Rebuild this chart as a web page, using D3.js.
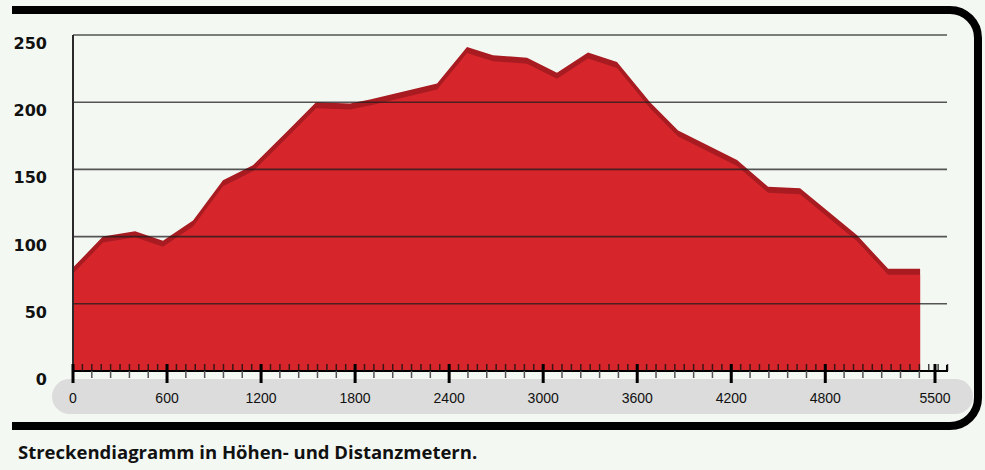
<!DOCTYPE html>
<html lang="de">

<head>
    <meta charset="utf-8">
    <script src="https://d3js.org/d3.v7.min.js"></script>
    <title>Streckendiagramm</title>
    <style>
        body {
            margin: 0;
            padding: 0;
            background-color: #f4f8f3;
        }

        svg {
            display: block;
        }
    </style>
</head>

<body>
    <svg id="chart" width="985" height="470"></svg>
    <script>

        // profile: distance (m) and elevation (m)
        var distances = [0, 191, 396, 574, 766, 957, 1148, 1372, 1551, 1768, 1895, 2323, 2514, 2680,
            2897, 3088, 3286, 3471, 3682, 3861, 4237, 4435, 4639, 5003, 5201, 5405];
        var elevations = [77, 100, 104, 97, 112, 142, 153, 179, 200, 199, 202, 214, 241, 235,
            233, 222, 237, 230, 200, 179, 157, 137, 136, 101, 76, 76];

        var xTicks = [0, 600, 1200, 1800, 2400, 3000, 3600, 4200, 4800, 5500];
        var yTicks = [0, 50, 100, 150, 200, 250];
        var caption = "Streckendiagramm in Höhen- und Distanzmetern.";

        var data = distances.map(function (d, i) { return { dist: d, elev: elevations[i] }; });

        var svg = d3.select("#chart");

        var x = d3.scaleLinear().domain([0, 5500]).range([73, 935]);
        var y = d3.scaleLinear().domain([0, 250]).range([371, 35]);

        // frame with rounded right corners
        svg.append("path")
            .attr("d", "M12,10 H950 A28,28 0 0 1 978,38 V398 A28,28 0 0 1 950,426 H12")
            .attr("fill", "none")
            .attr("stroke", "#000")
            .attr("stroke-width", 8);

        // grey band behind the distance labels
        svg.append("rect")
            .attr("x", 52).attr("y", 379)
            .attr("width", 921).attr("height", 35)
            .attr("rx", 17.5)
            .attr("fill", "#dcdcdc");

        // dark edge, then the red profile a bit lower on top of it
        svg.append("path")
            .datum(data)
            .attr("fill", "#a81b21")
            .attr("d", d3.area()
                .x(function (d) { return x(d.dist); })
                .y0(y(0))
                .y1(function (d) { return y(d.elev); }));

        svg.append("path")
            .datum(data)
            .attr("fill", "#d6262c")
            .attr("d", d3.area()
                .x(function (d) { return x(d.dist); })
                .y0(y(0))
                .y1(function (d) { return Math.min(y(d.elev) + 6, y(0)); }));

        // horizontal grid
        svg.append("g")
            .selectAll("line")
            .data(yTicks.filter(function (t) { return t > 0; }))
            .enter()
            .append("line")
            .attr("x1", 73).attr("x2", 947)
            .attr("y1", function (d) { return y(d); })
            .attr("y2", function (d) { return y(d); })
            .attr("stroke", "#1e1e1e")
            .attr("stroke-opacity", 0.75)
            .attr("stroke-width", 1.6);

        // left axis
        svg.append("line")
            .attr("x1", 73).attr("x2", 73)
            .attr("y1", y(250)).attr("y2", y(0))
            .attr("stroke", "#2a2a2a")
            .attr("stroke-width", 2);

        // y labels, sitting just below their grid line
        svg.append("g")
            .selectAll("text")
            .data(yTicks)
            .enter()
            .append("text")
            .attr("x", 47)
            .attr("y", function (d) { return y(d) + 14; })
            .attr("text-anchor", "end")
            .attr("font-family", "'DejaVu Sans', sans-serif")
            .attr("font-weight", "bold")
            .attr("font-size", "16px")
            .attr("fill", "#111")
            .text(function (d) { return d; });

        // x axis line with a small hook at the end
        svg.append("path")
            .attr("d", "M73," + y(0) + " H947 V" + (y(0) - 6))
            .attr("fill", "none")
            .attr("stroke", "#000")
            .attr("stroke-width", 2);

        // minor ticks above (every 60 m) and below (every 120 m)
        var upTicks = d3.range(60, 5581, 60);
        var downTicks = d3.range(120, 5500, 120);

        svg.append("g")
            .selectAll("line")
            .data(upTicks)
            .enter()
            .append("line")
            .attr("x1", function (d) { return x(d); })
            .attr("x2", function (d) { return x(d); })
            .attr("y1", y(0) - 7).attr("y2", y(0))
            .attr("stroke", "#111")
            .attr("stroke-opacity", 0.8)
            .attr("stroke-width", 1.5);

        svg.append("g")
            .selectAll("line")
            .data(downTicks)
            .enter()
            .append("line")
            .attr("x1", function (d) { return x(d); })
            .attr("x2", function (d) { return x(d); })
            .attr("y1", y(0)).attr("y2", y(0) + 7)
            .attr("stroke", "#555")
            .attr("stroke-width", 1.5);

        // labelled ticks
        svg.append("g")
            .selectAll("line")
            .data(xTicks)
            .enter()
            .append("line")
            .attr("x1", function (d) { return x(d); })
            .attr("x2", function (d) { return x(d); })
            .attr("y1", y(0) - 7).attr("y2", y(0) + 12)
            .attr("stroke", "#000")
            .attr("stroke-width", 3);

        svg.append("g")
            .selectAll("text")
            .data(xTicks)
            .enter()
            .append("text")
            .attr("x", function (d) { return x(d); })
            .attr("y", 403)
            .attr("text-anchor", "middle")
            .attr("font-family", "'Liberation Sans', Arial, sans-serif")
            .attr("font-size", "14px")
            .attr("fill", "#111")
            .text(function (d) { return d; });

        // caption
        svg.append("text")
            .attr("x", 18)
            .attr("y", 459)
            .attr("font-family", "'Open Sans', sans-serif")
            .attr("font-weight", "bold")
            .attr("font-size", "18.5px")
            .attr("fill", "#111")
            .text(caption);

    </script>
</body>

</html>
